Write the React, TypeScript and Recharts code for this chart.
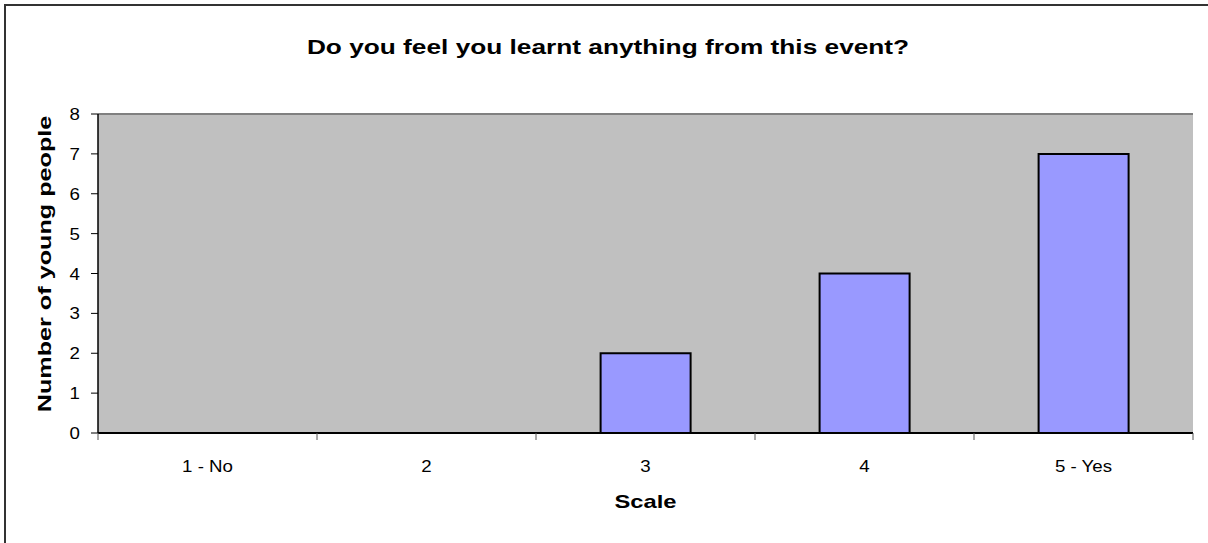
import React from "react";
import { BarChart, Bar, XAxis, YAxis, CartesianGrid, ReferenceLine } from "recharts";

const categories = ["1 - No", "2", "3", "4", "5 - Yes"];
const counts = [0, 0, 2, 4, 7];
const yTicks = [0, 1, 2, 3, 4, 5, 6, 7, 8];
const titleText = "Do you feel you learnt anything from this event?";
const xTitle = "Scale";
const yTitle = "Number of young people";

const data = categories.map((c, i) => ({ name: c, value: counts[i] }));

const FONT = "'Liberation Sans', Arial, sans-serif";
const SX = 1.1;

const YTick = (props: any) => {
  const { x, y, payload } = props;
  return (
    <text
      transform={`translate(${x - 9},${y}) scale(${SX},1)`}
      textAnchor="end"
      dy="0.36em"
      fontFamily={FONT}
      fontSize={17}
      fill="#000"
    >
      {payload.value}
    </text>
  );
};

const XTick = (props: any) => {
  const { x, y, payload } = props;
  const off = payload.offset || 0;
  return (
    <g>
      <line x1={x - off} x2={x - off} y1={y - 8} y2={y - 1} stroke="#555" strokeWidth={1} />
      {payload.index === categories.length - 1 && (
        <line x1={x + off} x2={x + off} y1={y - 8} y2={y - 1} stroke="#555" strokeWidth={1} />
      )}
      <text
        transform={`translate(${x},${y + 31}) scale(${SX},1)`}
        textAnchor="middle"
        fontFamily={FONT}
        fontSize={17}
        fill="#000"
      >
        {payload.value}
      </text>
    </g>
  );
};

export default function App() {
  return (
    <div
      style={{
        position: "absolute",
        left: 0,
        top: 0,
        width: 1208,
        height: 543,
        background: "#fff",
        overflow: "hidden",
      }}
    >
      <div style={{ position: "absolute", left: 0, top: 0 }}>
        <BarChart
          width={1208}
          height={543}
          data={data}
          margin={{ top: 114, right: 15, bottom: 0, left: 38 }}
          barCategoryGap="29.5%"
        >
          <CartesianGrid vertical={false} fill="#c0c0c0" stroke="#000" strokeWidth={1} />
          <XAxis
            dataKey="name"
            height={110}
            axisLine={{ stroke: "#000", strokeWidth: 2 }}
            tickLine={false}
            tick={<XTick />}
            interval={0}
          />
          <YAxis
            yAxisId="left"
            width={60}
            domain={[0, 8]}
            ticks={yTicks}
            interval={0}
            axisLine={{ stroke: "#000", strokeWidth: 1.5 }}
            tickLine={{ stroke: "#000" }}
            tickSize={7}
            tick={<YTick />}
          />
          <YAxis
            yAxisId="right"
            orientation="right"
            width={0}
            domain={[0, 8]}
            tick={false}
            tickLine={false}
            axisLine={{ stroke: "#808080", strokeWidth: 2 }}
          />
          <ReferenceLine yAxisId="left" y={8} stroke="#808080" strokeWidth={2} />
          <Bar
            yAxisId="left"
            dataKey="value"
            fill="#9999ff"
            stroke="#000"
            strokeWidth={2}
            isAnimationActive={false}
          />
        </BarChart>
      </div>
      <div style={{ position: "absolute", left: 4, top: 4, width: 2, height: 539, background: "#333" }} />
      <div style={{ position: "absolute", left: 4, top: 4, width: 1204, height: 2, background: "#333" }} />
      <svg
        width={1208}
        height={543}
        style={{ position: "absolute", left: 0, top: 0, pointerEvents: "none" }}
      >
        <text
          transform={`translate(608,54) scale(1.25,1)`}
          textAnchor="middle"
          fontFamily={FONT}
          fontWeight="bold"
          fontSize={21}
          fill="#000"
        >
          {titleText}
        </text>
        <text
          transform={`translate(645.5,508) scale(1.25,1)`}
          textAnchor="middle"
          fontFamily={FONT}
          fontWeight="bold"
          fontSize={19}
          fill="#000"
        >
          {xTitle}
        </text>
        <text
          transform={`translate(51,264) rotate(-90) scale(1.4,1)`}
          textAnchor="middle"
          fontFamily={FONT}
          fontWeight="bold"
          fontSize={18}
          fill="#000"
        >
          {yTitle}
        </text>
      </svg>
    </div>
  );
}
